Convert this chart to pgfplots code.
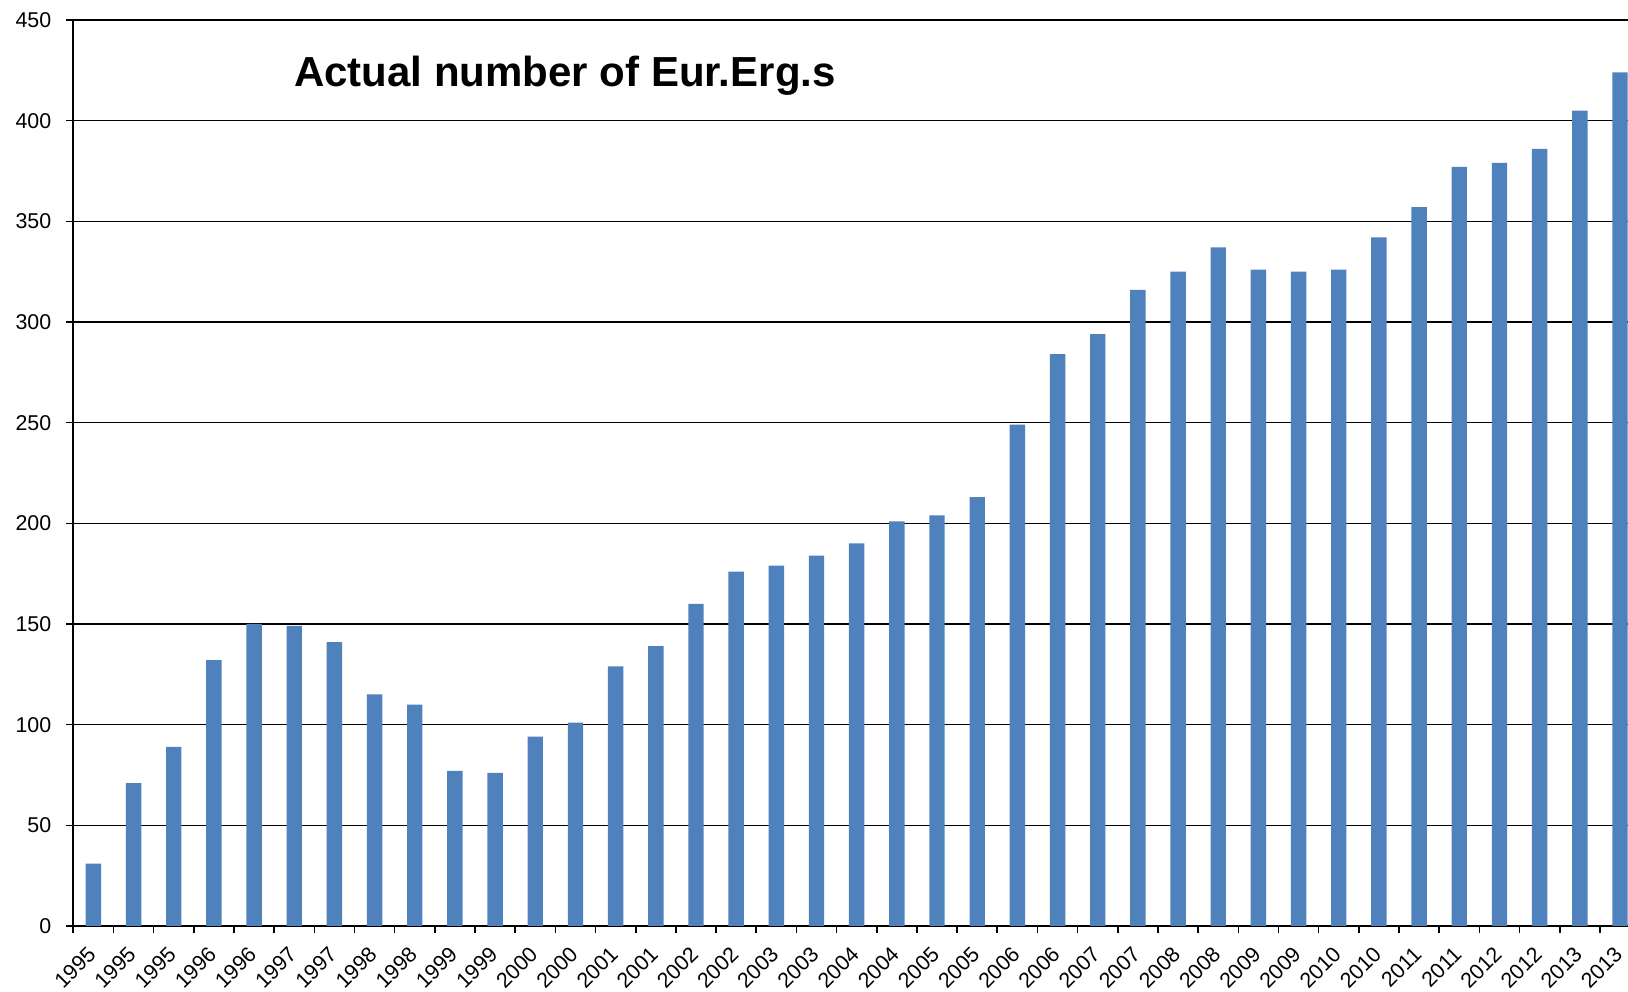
\documentclass[border=0pt]{standalone}
\usepackage{pgfplots}
\pgfplotsset{compat=1.18}
\usepackage{fontspec}
\setmainfont{Liberation Sans}
\definecolor{barblue}{RGB}{79,129,189}
\begin{document}
\begin{tikzpicture}
\begin{axis}[
  scale only axis,
  width=777.35pt, height=453pt,
  xmin=-0.5, xmax=38.2,
  ymin=0, ymax=450,
  axis x line=bottom, axis y line=left,
  axis line style={-, black, line width=0.8pt},
  ybar, bar width=7.7pt,
  tick align=outside,
  major tick length=3.5pt,
  ytick={0,50,...,400},
  extra y ticks={450},
  extra y tick style={grid style={gray!60, line width=0.6pt}},
  ymajorgrids,
  major grid style={black, line width=0.7pt},
  ytick style={black, line width=0.8pt},
  xtick={0,...,38},
  xticklabels={1995,1995,1995,1996,1996,1997,1997,1998,1998,1999,1999,2000,2000,2001,2001,2002,2002,2003,2003,2004,2004,2005,2005,2006,2006,2007,2007,2008,2008,2009,2009,2010,2010,2011,2011,2012,2012,2013,2013},
  xtick style={draw=none},
  extra x ticks={-0.5,0.5,...,37.5},
  extra x tick labels={},
  extra x tick style={xtick style={draw=black, line width=0.8pt}},
  tick label style={font=\fontsize{10.7}{12}\selectfont, black},
  yticklabel style={xshift=-4pt},
  xticklabel style={xshift=-3.5pt, yshift=-4.5pt, rotate=45, anchor=north east, inner sep=1pt},
  /pgf/number format/assume math mode=true,
]
\addplot[fill=barblue, draw=none] coordinates {
(0,31) (1,71) (2,89) (3,132) (4,150) (5,149) (6,141) (7,115) (8,110) (9,77)
(10,76) (11,94) (12,101) (13,129) (14,139) (15,160) (16,176) (17,179) (18,184) (19,190)
(20,201) (21,204) (22,213) (23,249) (24,284) (25,294) (26,316) (27,325) (28,337) (29,326)
(30,325) (31,326) (32,342) (33,357) (34,377) (35,379) (36,386) (37,405) (38,424)
};
\node[anchor=base west, inner sep=0pt, font=\fontsize{21}{24}\selectfont\bfseries] at (axis cs:4.99,416.8) {Actual number of Eur.Erg.s};
\coordinate (sw) at (rel axis cs:0,0);
\coordinate (ne) at (rel axis cs:1,1);
\end{axis}
\pgfresetboundingbox
\path ([xshift=-36.65pt,yshift=-33pt]sw) rectangle ([yshift=10pt]ne);
\end{tikzpicture}
\end{document}
